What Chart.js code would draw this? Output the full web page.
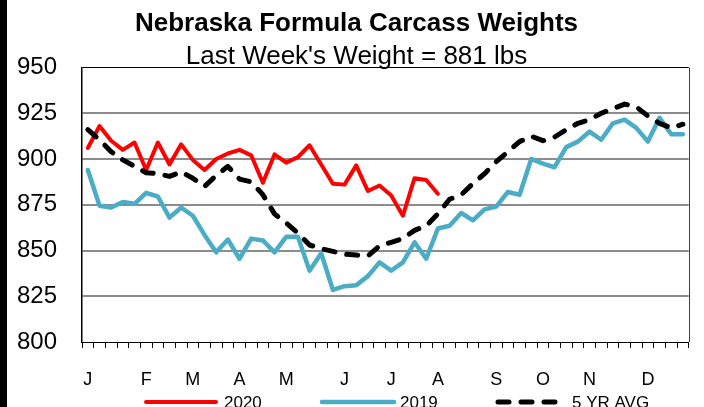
<!DOCTYPE html>
<html><head><meta charset="utf-8">
<script src="https://cdn.jsdelivr.net/npm/chart.js@4.4.1/dist/chart.umd.min.js"></script>
<style>
html,body{margin:0;padding:0;background:#fff;overflow:hidden;}
#wrap{position:relative;width:704px;height:407px;background:#fff;}
#stripe{position:absolute;left:0;top:0;width:7px;height:407px;background:#000;}
canvas{display:block;}
</style></head><body>
<div id="wrap"><canvas id="c" width="704" height="407"></canvas><div id="stripe"></div></div>
<script>
// ---- data ----
const weeks = [1,2,3,4,5,6,7,8,9,10,11,12,13,14,15,16,17,18,19,20,21,22,23,24,25,26,
               27,28,29,30,31,32,33,34,35,36,37,38,39,40,41,42,43,44,45,46,47,48,49,50,51,52];
const monthLetters = ['J','F','M','A','M','J','J','A','S','O','N','D'];
const monthStartWeek = [1,6,10,14,18,23,27,31,36,40,44,49];
const yTicks = [800,825,850,875,900,925,950];

const values2020 = [906,918,910,905,909,894,909,897,908,899.5,894,900,903,905,902,887,
                    902.5,898,901,907.5,897,886.5,886,896.5,882.5,885.5,880,869,889.5,888.5,881];
const values2019 = [894,874.5,873.5,876.5,875.5,881.5,879.5,868,873.5,869,858.5,849,856,845.5,
                    856.5,855.5,849,857.5,857.5,839,848.5,828.5,830.5,831,836,843.5,839,843.5,
                    854.5,845.5,862,863.5,870.5,866.5,872.5,874,882,880.5,900,897.5,895.5,906.5,
                    909.5,915,910.5,919.5,921.5,917,909.5,922.5,913.5,913.5];
const values5yr = [916,910.5,904,899.5,896,892.5,892,890.5,893,889.5,885,891,896,889,887.5,
                   880.5,870,865,859.5,853,851,849.5,848,847.5,847,852.5,854.5,856.5,861,863.5,
                   870,878,880.5,886.5,892,898.5,904,909.5,912.5,910,912,916,919.5,921.5,925,
                   927.5,930,928.5,923.5,919.5,917,919];

const FONT = "'Liberation Sans', Arial, sans-serif";
Chart.defaults.font.family = FONT;
Chart.defaults.color = '#000';

// custom legend (drawn from dataset styles)
const legendSlots = [{x0:146,x1:216,tx:224},{x0:322,x1:394,tx:400},{x0:498,x1:566,tx:572}];
const legendPlugin = {
  id:'customLegend',
  afterDraw(chart){
    const ctx = chart.ctx;
    const y = 402;
    ctx.save();
    chart.data.datasets.forEach((ds,i)=>{
      const s = legendSlots[i];
      ctx.beginPath();
      ctx.strokeStyle = ds.borderColor;
      ctx.lineWidth = ds.borderWidth;
      ctx.lineCap = 'round';
      ctx.setLineDash(ds.borderDash || []);
      ctx.moveTo(s.x0, y); ctx.lineTo(s.x1, y);
      ctx.stroke();
      ctx.setLineDash([]);
      ctx.fillStyle = '#000';
      ctx.font = "17px " + FONT;
      ctx.textBaseline = 'alphabetic';
      ctx.textAlign = 'left';
      ctx.fillText(ds.label, s.tx, 408);
    });
    ctx.restore();
  }
};
const framePlugin = {
  id:'frame',
  afterDraw(chart){
    const {ctx, chartArea:a} = chart;
    ctx.save();
    ctx.strokeStyle = '#404040';
    ctx.lineWidth = 1;
    ctx.beginPath();
    ctx.moveTo(Math.round(a.right)+0.5, a.top);
    ctx.lineTo(Math.round(a.right)+0.5, a.bottom);
    ctx.stroke();
    ctx.restore();
  }
};
const whiteBg = {
  id:'whiteBg',
  beforeDraw(chart){ const c=chart.ctx; c.save(); c.fillStyle='#fff'; c.fillRect(0,0,chart.width,chart.height); c.restore(); }
};

new Chart(document.getElementById('c'), {
  type:'line',
  data:{
    labels: weeks,
    datasets:[
      {label:'2020', data:values2020, borderColor:'#FF0000', backgroundColor:'#FF0000', borderWidth:4,
       pointRadius:0, tension:0, order:2, borderJoinStyle:'round', borderCapStyle:'round'},
      {label:'2019', data:values2019, borderColor:'#4BACC6', backgroundColor:'#4BACC6', borderWidth:4.5,
       pointRadius:0, tension:0, order:1, borderJoinStyle:'round', borderCapStyle:'round'},
      {label:'5 YR AVG', data:values5yr, borderColor:'#000', backgroundColor:'#000', borderWidth:5,
       borderDash:[11,12], pointRadius:0, tension:0, order:0, borderJoinStyle:'round', borderCapStyle:'round'}
    ]
  },
  options:{
    responsive:false, animation:false, devicePixelRatio:1,
    layout:{padding:{left:17,right:8,top:0,bottom:0}},
    plugins:{
      legend:{display:false}, tooltip:{enabled:false},
      title:{display:true, text:'Nebraska Formula Carcass Weights', color:'#000',
             font:{family:FONT, size:26, weight:'bold', lineHeight:1}, padding:{top:11,bottom:0}},
      subtitle:{display:true, text:"Last Week's Weight = 881 lbs", color:'#000',
             font:{family:FONT, size:26, weight:'normal', lineHeight:1}, padding:{top:7,bottom:-2.5}}
    },
    scales:{
      x:{
        type:'category', offset:true,
        grid:{offset:true, drawOnChartArea:false, drawTicks:true, tickLength:6, color:'#000', lineWidth:1},
        border:{display:true, color:'#000', width:1},
        ticks:{autoSkip:false, maxRotation:0, minRotation:0, padding:21, color:'#000', font:{size:18},
          callback:function(v,i){ const k = monthStartWeek.indexOf(weeks[i]); return k>=0 ? monthLetters[k] : ''; }},
        afterFit:(s)=>{ s.height = 65; }
      },
      y:{
        min:yTicks[0], max:yTicks[yTicks.length-1],
        afterBuildTicks:(s)=>{ s.ticks = yTicks.map(v=>({value:v})); },
        ticks:{padding:25, color:'#000', font:{size:24}},
        grid:{drawTicks:false,
          color:(c)=> (c.tick && (c.tick.value===950 || c.tick.value===800)) ? '#000' : '#8c8c8c',
          lineWidth:(c)=> (c.tick && (c.tick.value===950 || c.tick.value===800)) ? 1 : 2},
        border:{display:true, color:'#000', width:1.5},
        afterFit:(s)=>{ s.width = 65; }
      }
    }
  },
  plugins:[whiteBg, framePlugin, legendPlugin]
});
</script>
</body></html>
